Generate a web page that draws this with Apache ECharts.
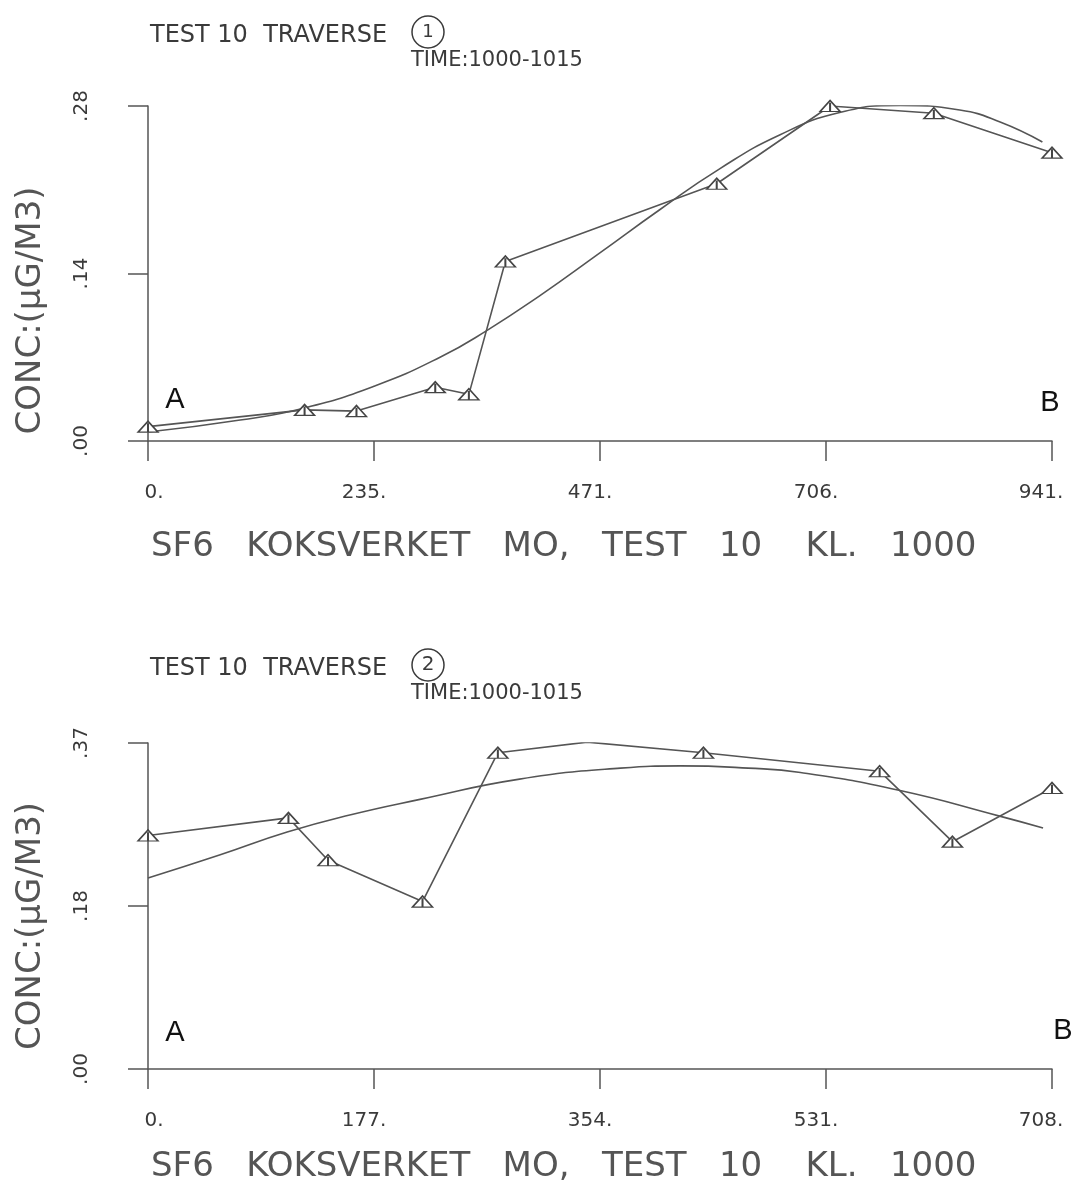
<!DOCTYPE html>
<html>
<head>
<meta charset="utf-8">
<script src="https://cdn.jsdelivr.net/npm/echarts@6/dist/echarts.min.js"></script>
<style>
html,body{margin:0;padding:0;background:#fff;}
#c{width:1075px;height:1194px;}
</style>
</head>
<body>
<div id="c"></div>
<script>
// ---- Traverse 1 data ----
var t1Points = [[0,0.012],[163,0.026],[217,0.025],[299,0.045],[334,0.039],[372,0.150],[592,0.215],[710,0.280],[818,0.274],[941,0.241]];
var t1Fit = [[0,0.0075],[96,0.0175],[163,0.0276],[236,0.046],[304,0.0700],[353,0.0925],[408,0.1215],[470,0.157],[533,0.1935],[595,0.2275],[658,0.2560],[720,0.2745],[783,0.2805],[845,0.2766],[887,0.2666],[931,0.2499]];
var t1XTicks = ['0.','235.','471.','706.','941.'];
var t1YTicks = ['.00','.14','.28'];
var t1XMax = 941;
var t1YMax = 0.28;

// ---- Traverse 2 data ----
var t2Points = [[0,0.265],[110,0.285],[141,0.237],[215,0.190],[274,0.359],[344,0.371],[435,0.359],[573,0.338],[630,0.258],[708,0.319]];
var t2Fit = [[0,0.2168],[56,0.2429],[109,0.2690],[158,0.2883],[213,0.3060],[291,0.3290],[370,0.3415],[417,0.3440],[470,0.3415],[511,0.3365],[589,0.3160],[667,0.2870],[701,0.2735]];
var t2XTicks = ['0.','177.','354.','531.','708.'];
var t2YTicks = ['.00','.18','.37'];
var t2XMax = 708;
var t2YMax = 0.37;

// ---- texts ----
var headText = 'TEST 10  TRAVERSE';
var timeText = 'TIME:1000-1015';
var footText = 'SF6   KOKSVERKET   MO,   TEST   10    KL.   1000';
var yName = 'CONC:(\u00B5G/M3)';

var FONT = 'DejaVu Sans';
var INK = '#3a3a3a';
var LINE = '#555';

var tri = 'path://M0,10 L10,0 L20,10 Z M10,2 L10,10';

function xAxisFor(gi, max, ticks) {
  var rich = {};
  for (var i = 0; i < ticks.length; i++) {
    rich['t' + i] = {fontFamily: FONT, fontSize: 20, color: INK,
      padding: i === 0 ? [0,0,0,12] : (i === ticks.length - 1 ? [0,22,0,0] : [0,20,0,0])};
  }
  return {
    type: 'value', gridIndex: gi, min: 0, max: max, interval: max / 4,
    axisLine: {show: true, onZero: false, lineStyle: {color: LINE, width: 1.5}},
    axisTick: {show: true, length: 20, lineStyle: {color: LINE, width: 1.5}},
    splitLine: {show: false},
    axisLabel: {margin: 42, formatter: function (v, idx) {
      var k = Math.round(v / (max / 4));
      return '{t' + k + '|' + ticks[k] + '}';
    }, rich: rich}
  };
}
function yAxisFor(gi, max, ticks, shift) {
  return {
    type: 'value', gridIndex: gi, min: 0, max: max, interval: max / 2,
    axisLine: {show: true, onZero: false, lineStyle: {color: LINE, width: 1.5}},
    axisTick: {show: true, length: 20, lineStyle: {color: LINE, width: 1.5}},
    splitLine: {show: false},
    axisLabel: {rotate: 90, margin: 56, fontFamily: FONT, fontSize: 20, color: INK,
      formatter: function (v) { return ticks[Math.round(v / (max / 2))]; }},
    name: yName, nameLocation: 'middle', nameRotate: 90, nameGap: 100,
    nameTextStyle: {fontFamily: FONT, fontSize: 34, color: '#555', padding: [0, shift, 0, 0]}
  };
}

var chart = echarts.init(document.getElementById('c'), null, {renderer: 'canvas'});
var option = {
  backgroundColor: '#fff',
  animation: false,
  title: [
    {text: headText, left: 145, top: 19, textStyle: {fontFamily: FONT, fontWeight: 'normal', fontSize: 24, color: INK}},
    {text: timeText, left: 406, top: 45, textStyle: {fontFamily: FONT, fontWeight: 'normal', fontSize: 21, color: INK}},
    {text: footText, left: 146, top: 525, textStyle: {fontFamily: FONT, fontWeight: 'normal', fontSize: 34, color: '#555'}},
    {text: headText, left: 145, top: 652, textStyle: {fontFamily: FONT, fontWeight: 'normal', fontSize: 24, color: INK}},
    {text: timeText, left: 406, top: 678, textStyle: {fontFamily: FONT, fontWeight: 'normal', fontSize: 21, color: INK}},
    {text: footText, left: 146, top: 1145, textStyle: {fontFamily: FONT, fontWeight: 'normal', fontSize: 34, color: '#555'}}
  ],
  graphic: [
    {type: 'circle', shape: {cx: 428, cy: 32, r: 16}, style: {fill: 'none', stroke: INK, lineWidth: 1.5}},
    {type: 'text', x: 428, y: 32, style: {text: '1', fontFamily: FONT, fontSize: 18, fill: INK, align: 'center', verticalAlign: 'middle'}},
    {type: 'circle', shape: {cx: 428, cy: 665, r: 16}, style: {fill: 'none', stroke: INK, lineWidth: 1.5}},
    {type: 'text', x: 428, y: 665, style: {text: '2', fontFamily: FONT, fontSize: 20, fill: INK, align: 'center', verticalAlign: 'middle'}},
    {type: 'text', x: 175, y: 400, style: {text: 'A', fontFamily: 'Liberation Sans', fontSize: 29, fill: '#111', align: 'center', verticalAlign: 'middle'}},
    {type: 'text', x: 1050, y: 403, style: {text: 'B', fontFamily: 'Liberation Sans', fontSize: 29, fill: '#111', align: 'center', verticalAlign: 'middle'}},
    {type: 'text', x: 175, y: 1033, style: {text: 'A', fontFamily: 'Liberation Sans', fontSize: 29, fill: '#111', align: 'center', verticalAlign: 'middle'}},
    {type: 'text', x: 1063, y: 1031, style: {text: 'B', fontFamily: 'Liberation Sans', fontSize: 29, fill: '#111', align: 'center', verticalAlign: 'middle'}}
  ],
  grid: [
    {left: 148, top: 106, width: 904, height: 335},
    {left: 148, top: 743, width: 904, height: 326}
  ],
  xAxis: [xAxisFor(0, t1XMax, t1XTicks), xAxisFor(1, t2XMax, t2XTicks)],
  yAxis: [yAxisFor(0, t1YMax, t1YTicks, 74), yAxisFor(1, t2YMax, t2YTicks, 40)],
  series: [
    {type: 'line', xAxisIndex: 0, yAxisIndex: 0, data: t1Fit, smooth: 0.5, symbol: 'none',
      lineStyle: {color: LINE, width: 1.6}, z: 2},
    {type: 'line', xAxisIndex: 0, yAxisIndex: 0, data: t1Points, symbol: tri, symbolSize: [20, 11],
      itemStyle: {color: '#fff', borderColor: '#444', borderWidth: 1.5},
      lineStyle: {color: LINE, width: 1.6}, z: 3},
    {type: 'line', xAxisIndex: 1, yAxisIndex: 1, data: t2Fit, smooth: 0.5, symbol: 'none',
      lineStyle: {color: LINE, width: 1.6}, z: 2},
    {type: 'line', xAxisIndex: 1, yAxisIndex: 1, data: t2Points, symbol: tri, symbolSize: [20, 11],
      itemStyle: {color: '#fff', borderColor: '#444', borderWidth: 1.5},
      lineStyle: {color: LINE, width: 1.6}, z: 3}
  ]
};
chart.setOption(option);
</script>
</body>
</html>
